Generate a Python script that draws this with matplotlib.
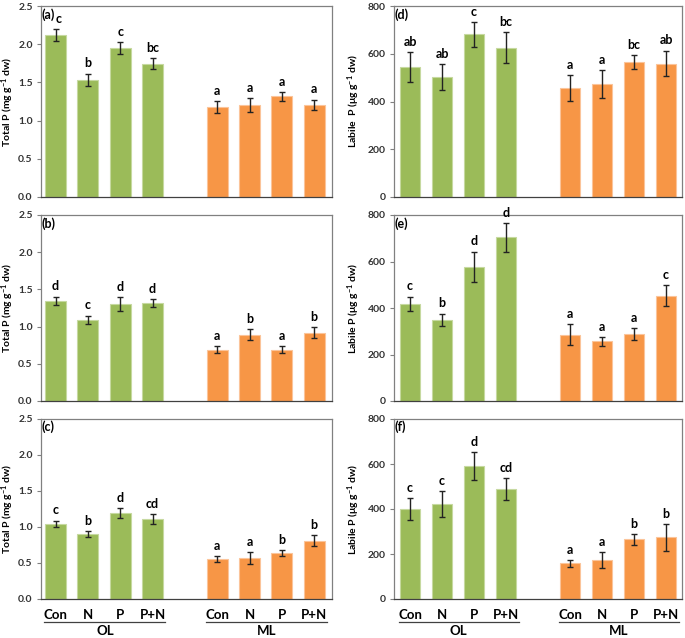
import numpy as np
import matplotlib
matplotlib.use("Agg")
import matplotlib.pyplot as plt

plt.rcParams['font.family'] = ['Lato', 'DejaVu Sans']
plt.rcParams['mathtext.fontset'] = 'custom'
plt.rcParams['mathtext.rm'] = 'Lato:bold'
plt.rcParams['mathtext.bf'] = 'Lato:bold'
plt.rcParams['mathtext.it'] = 'Lato:bold'
plt.rcParams['mathtext.default'] = 'bf'

treatments = ["Con", "N", "P", "P+N", "Con", "N", "P", "P+N"]
groups = ["OL", "ML"]

# total P (mg g-1 dw), panels a-c
tp_a = [2.12, 1.535, 1.95, 1.745, 1.18, 1.205, 1.316, 1.205]
tp_a_err = [0.08, 0.08, 0.075, 0.07, 0.08, 0.09, 0.055, 0.07]
tp_a_let = ["c", "b", "c", "bc", "a", "a", "a", "a"]

tp_b = [1.349, 1.093, 1.304, 1.313, 0.688, 0.89, 0.688, 0.92]
tp_b_err = [0.055, 0.055, 0.095, 0.055, 0.045, 0.075, 0.045, 0.075]
tp_b_let = ["d", "c", "d", "d", "a", "b", "a", "b"]

tp_c = [1.044, 0.90, 1.192, 1.113, 0.557, 0.566, 0.64, 0.81]
tp_c_err = [0.045, 0.04, 0.07, 0.07, 0.037, 0.08, 0.037, 0.077]
tp_c_let = ["c", "b", "d", "cd", "a", "a", "b", "b"]

# labile P (ug g-1 dw), panels d-f
lp_d = [545, 503, 682, 626, 455, 473, 566, 559]
lp_d_err = [62, 55, 52, 65, 54, 58, 28, 54]
lp_d_let = ["ab", "ab", "c", "bc", "a", "a", "bc", "ab"]

lp_e = [417, 350, 578, 704, 285, 256, 288, 453]
lp_e_err = [32, 26, 65, 62, 46, 19, 27, 44]
lp_e_let = ["c", "b", "d", "d", "a", "a", "a", "c"]

lp_f = [399, 421, 592, 488, 159, 175, 266, 274]
lp_f_err = [50, 58, 62, 48, 15, 35, 24, 59]
lp_f_let = ["c", "c", "d", "cd", "a", "a", "b", "b"]

green = "#9bbb59"
orange = "#f79646"
x = np.array([0, 1, 2, 3, 5, 6, 7, 8])
colors = [green] * 4 + [orange] * 4
edges = ["#c6d9a0"] * 4 + ["#fbc49a"] * 4

W, H = 685, 638
fig = plt.figure(figsize=(W / 100, H / 100), dpi=100)

cols = [(41, 332), (394, 682)]
rows = [(6, 197), (215, 401), (419, 599)]

panels = [
    (0, 0, "(a)", tp_a, tp_a_err, tp_a_let, "tp"),
    (1, 0, "(b)", tp_b, tp_b_err, tp_b_let, "tp"),
    (2, 0, "(c)", tp_c, tp_c_err, tp_c_let, "tp"),
    (0, 1, "(d)", lp_d, lp_d_err, lp_d_let, "lp"),
    (1, 1, "(e)", lp_e, lp_e_err, lp_e_let, "lp"),
    (2, 1, "(f)", lp_f, lp_f_err, lp_f_let, "lp"),
]

for r, c, lab, vals, errs, lets, kind in panels:
    x0, x1 = cols[c]
    y0, y1 = rows[r]
    ax = fig.add_axes([x0 / W, 1 - y1 / H, (x1 - x0) / W, (y1 - y0) / H])
    ax.bar(x, vals, width=0.65, color=colors, edgecolor=edges, linewidth=0.8, zorder=2)
    ax.errorbar(x, vals, yerr=errs, fmt="none", ecolor="#222222", elinewidth=1.0,
                capsize=2.5, capthick=1.0, zorder=3)
    for xi, v, e, t in zip(x, vals, errs, lets):
        dx = 2 if (lab == "(a)" and xi == 0) else 0
        ax.annotate(t, (xi, v + e), xytext=(dx, 3), textcoords="offset points",
                    ha="center", va="bottom", fontsize=9, fontweight="bold")
    ax.text(0.003, 0.99, lab, transform=ax.transAxes, ha="left", va="top",
            fontsize=9, fontweight="bold")
    if kind == "tp":
        ax.set_xlim(-0.45, 8.55)
        ax.set_ylim(0, 2.5)
        ax.set_yticks([0, 0.5, 1.0, 1.5, 2.0, 2.5])
        ax.set_yticklabels(["0.0", "0.5", "1.0", "1.5", "2.0", "2.5"])
        ax.set_ylabel("Total P (mg g$^{-1}$ dw)", fontsize=7.5, fontweight="bold", labelpad=1.5)
    else:
        ax.set_xlim(-0.5, 8.5)
        ax.set_ylim(0, 800)
        ax.set_yticks([0, 200, 400, 600, 800])
        yl = "Labile  P (μg g$^{-1}$ dw)" if r == 0 else "Labile P (μg g$^{-1}$ dw)"
        ax.set_ylabel(yl, fontsize=7.5, fontweight="bold", labelpad=4)
    for s in ax.spines.values():
        s.set_color("#808080")
        s.set_linewidth(0.9)
    ax.spines["bottom"].set_color("#404040")
    ax.tick_params(axis="y", labelsize=7.5, length=3, width=0.8, color="#808080", pad=3)
    for tl in ax.get_yticklabels():
        tl.set_fontweight("bold")
        tl.set_color("#333333")
    if r == 2:
        ax.set_xticks(x)
        ax.set_xticklabels(treatments, fontsize=9.5, fontweight="bold")
        ax.tick_params(axis="x", length=0, pad=7)
        tr = ax.get_xaxis_transform()
        for (a, b), g in zip([(-0.35, 3.4), (4.65, 8.4)], groups):
            ax.plot([a, b], [-0.125, -0.125], transform=tr, color="#404040",
                    linewidth=0.9, clip_on=False)
            ax.text((a + b) / 2, -0.145, g, transform=tr, ha="center", va="top",
                    fontsize=9.5, fontweight="bold")
    else:
        ax.set_xticks([])

fig.savefig("out.png", dpi=100)
